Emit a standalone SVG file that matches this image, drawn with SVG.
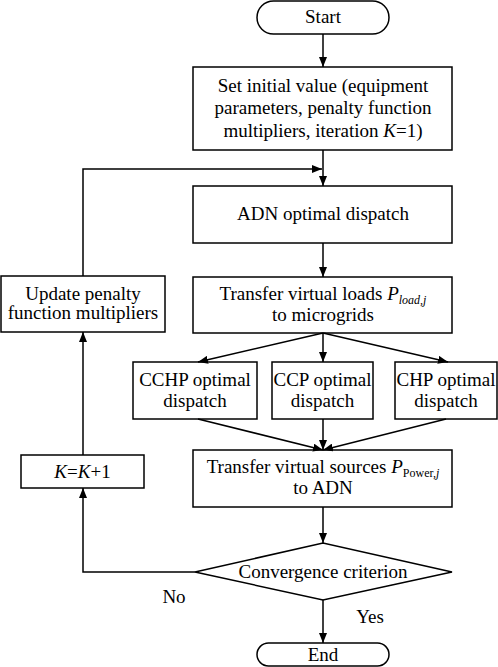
<svg xmlns="http://www.w3.org/2000/svg" width="498" height="667" viewBox="0 0 498 667">
<style>
.b{fill:#fff;stroke:#000;stroke-width:1.5}
.t{font-family:"Liberation Serif","Times New Roman",serif;font-size:19px;fill:#000;text-anchor:middle}
.c{fill:none;stroke:#000;stroke-width:1.5}
.i{font-style:italic}
</style>
<defs>
<marker id="a" viewBox="0 0 10 8" refX="10" refY="4" markerWidth="10" markerHeight="8" markerUnits="userSpaceOnUse" orient="auto">
<path d="M0,0 L10,4 L0,8 Z" fill="#000"/>
</marker>
</defs>
<g id="start"><rect class="b" x="257" y="1" width="132" height="33" rx="16.5"/><text class="t" x="323" y="23">Start</text></g>
<g id="init"><rect class="b" x="193" y="67" width="259" height="83"/>
<text class="t" x="323" y="92">Set initial value (equipment</text>
<text class="t" x="323" y="114">parameters, penalty function</text>
<text class="t" x="323" y="137">multipliers, iteration <tspan class="i">K</tspan>=1)</text></g>
<g id="adn"><rect class="b" x="193" y="186" width="259" height="57"/><text class="t" x="323" y="220">ADN optimal dispatch</text></g>
<g id="loads"><rect class="b" x="193" y="277" width="259" height="56"/>
<text class="t" x="323" y="300">Transfer virtual loads <tspan class="i">P</tspan><tspan class="i" font-size="12" dy="4">load,j</tspan></text>
<text class="t" x="323" y="321">to microgrids</text></g>
<g id="update"><rect class="b" x="1" y="276" width="164" height="56"/>
<text class="t" x="83" y="300">Update penalty</text>
<text class="t" x="83" y="319">function multipliers</text></g>
<g id="cchp"><rect class="b" x="133" y="362" width="124" height="57"/>
<text class="t" x="195" y="386">CCHP optimal</text><text class="t" x="195" y="407">dispatch</text></g>
<g id="ccp"><rect class="b" x="272" y="362" width="101" height="57"/>
<text class="t" x="322.500" y="386">CCP optimal</text><text class="t" x="322.500" y="407">dispatch</text></g>
<g id="chp"><rect class="b" x="395" y="362" width="102" height="57"/>
<text class="t" x="446" y="386">CHP optimal</text><text class="t" x="446" y="407">dispatch</text></g>
<g id="sources"><rect class="b" x="193" y="450" width="259" height="57"/>
<text class="t" x="323" y="473">Transfer virtual sources <tspan class="i">P</tspan><tspan font-size="12" dy="4">Power,</tspan><tspan class="i" font-size="12">j</tspan></text>
<text class="t" x="323" y="494">to ADN</text></g>
<g id="kinc"><rect class="b" x="21" y="455" width="123" height="33"/>
<text class="t" x="82.500" y="478"><tspan class="i">K</tspan>=<tspan class="i">K</tspan>+1</text></g>
<g id="conv"><polygon class="b" points="195,572 323,543 452,572 323,600"/>
<text class="t" x="323" y="578">Convergence criterion</text></g>
<g id="end"><rect class="b" x="257" y="643" width="132" height="23" rx="11.500"/><text class="t" x="323" y="661">End</text></g>
<g id="connectors">
<line class="c" x1="323" y1="34" x2="323" y2="67" marker-end="url(#a)"/>
<line class="c" x1="323" y1="150" x2="323" y2="186" marker-end="url(#a)"/>
<polyline class="c" points="83,276 83,169 322,169" marker-end="url(#a)"/>
<line class="c" x1="323" y1="243" x2="323" y2="277" marker-end="url(#a)"/>
<line class="c" x1="323" y1="333" x2="198" y2="362" marker-end="url(#a)"/>
<line class="c" x1="323" y1="333" x2="323" y2="362" marker-end="url(#a)"/>
<line class="c" x1="323" y1="333" x2="448" y2="362" marker-end="url(#a)"/>
<line class="c" x1="198" y1="419" x2="323" y2="450" marker-end="url(#a)"/>
<line class="c" x1="323" y1="419" x2="323" y2="450" marker-end="url(#a)"/>
<line class="c" x1="446" y1="419" x2="323" y2="450" marker-end="url(#a)"/>
<line class="c" x1="323" y1="507" x2="323" y2="543" marker-end="url(#a)"/>
<polyline class="c" points="195,572 83,572 83,488" marker-end="url(#a)"/>
<line class="c" x1="83" y1="455" x2="83" y2="332" marker-end="url(#a)"/>
<line class="c" x1="323" y1="600" x2="323" y2="643" marker-end="url(#a)"/>
<text class="t" x="174" y="603">No</text>
<text class="t" x="370" y="623">Yes</text>
</g>
</svg>
